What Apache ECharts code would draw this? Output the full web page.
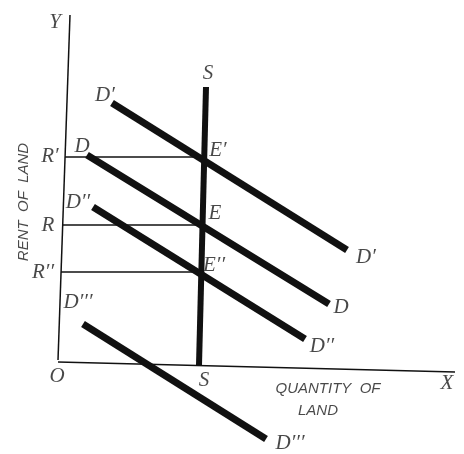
<!DOCTYPE html>
<html>
<head>
<meta charset="utf-8">
<script src="https://cdn.jsdelivr.net/npm/echarts@6/dist/echarts.min.js"></script>
<style>
  html, body { margin: 0; padding: 0; background: #fff; }
  #chart { width: 464px; height: 454px; }
</style>
</head>
<body>
<div id="chart"></div>
<script>
  // demand curves (quantity, rent) - end points
  var demandUp = [[52, 259], [287, 112]];      // D'
  var demand = [[27, 207], [269, 58]];         // D
  var demandDown = [[33, 155], [245, 23]];     // D''
  var demandLow = [[23, 38], [206, -77]];      // D'''
  var supply = [[146, 275], [139, -3]];        // S (fixed supply of land)

  // rent levels R', R, R'' back to the rent axis
  var rentHigh = [[5, 205], [145, 205]];
  var rentMid = [[3, 137], [143, 137]];
  var rentLow = [[1, 90], [141, 90]];

  // axes drawn as lines
  var axisY = [[-2, 2], [10, 347]];
  var axisX = [[-2, 0], [395, -10]];

  // letters on the diagram [x, y, text]
  var letters = [
    [-5, 340, 'Y'], [-3, -14, 'O'], [387, -21, 'X'],
    [148, 289, 'S'], [144, -18, 'S'],
    [45, 267, 'D′'], [22, 216, 'D'], [18, 160, 'D′′'], [18, 60, 'D′′′'],
    [306, 105, 'D′'], [281, 55, 'D'], [262, 16, 'D′′'], [230, -81, 'D′′′'],
    [-10, 206, 'R′'], [-12, 137, 'R'], [-17, 90, 'R′′'],
    [158, 212, 'E′'], [155, 149, 'E'], [154, 97, 'E′′']
  ];
  var captions = [[268, -27, 'QUANTITY  OF'], [258, -49, 'LAND']];
  var yCaption = [[-36, 160, 'RENT  OF  LAND']];

  var chart = echarts.init(document.getElementById('chart'));

  function seg(data, width) {
    return {
      type: 'line',
      data: data,
      symbol: 'none',
      silent: true,
      animation: false,
      lineStyle: { color: '#111', width: width, cap: 'butt' }
    };
  }

  function textLayer(data, style) {
    return {
      type: 'scatter',
      data: data,
      symbolSize: 0,
      silent: true,
      animation: false,
      label: Object.assign({
        show: true,
        position: 'inside',
        align: 'center',
        verticalAlign: 'middle',
        color: '#1a1a1a',
        formatter: function (p) { return p.data[2]; }
      }, style)
    };
  }

  var option = {
    backgroundColor: '#fff',
    grid: { left: 0, right: 0, top: 0, bottom: 0 },
    xAxis: { type: 'value', min: -60, max: 404, show: false },
    yAxis: { type: 'value', min: -92, max: 362, show: false },
    series: [
      seg(axisY, 1.5),
      seg(axisX, 1.5),
      seg(rentHigh, 1.3),
      seg(rentMid, 1.3),
      seg(rentLow, 1.3),
      seg(supply, 6),
      seg(demandUp, 7),
      seg(demand, 7),
      seg(demandDown, 7),
      seg(demandLow, 7),
      textLayer(letters, {
        fontFamily: 'Liberation Serif',
        fontStyle: 'italic',
        fontSize: 21
      }),
      textLayer(captions, {
        fontFamily: 'Liberation Sans',
        fontStyle: 'italic',
        fontSize: 15
      }),
      textLayer(yCaption, {
        fontFamily: 'Liberation Sans',
        fontStyle: 'italic',
        fontSize: 15,
        rotate: 90
      })
    ]
  };
  chart.setOption(option);
</script>
</body>
</html>
